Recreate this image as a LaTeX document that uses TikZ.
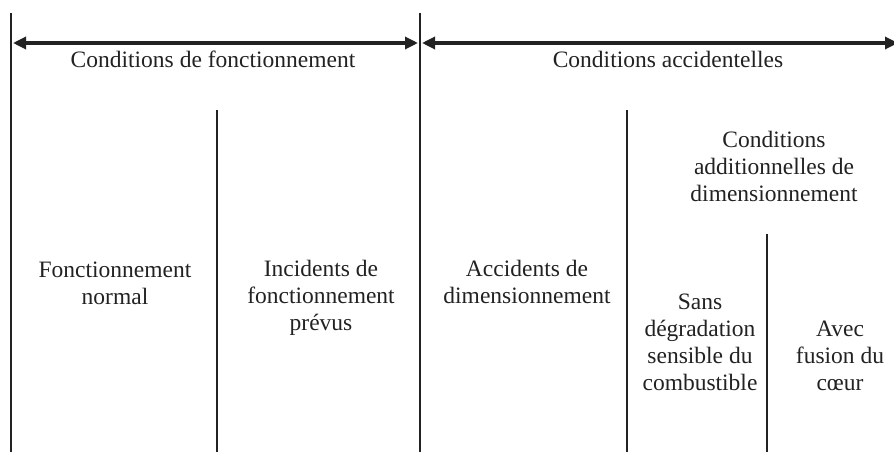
\documentclass[tikz,border=0pt]{standalone}
\usepackage{fontspec}
\setmainfont{Liberation Serif}
\usetikzlibrary{arrows.meta}
\definecolor{ink}{HTML}{222222}
\tikzset{
  divider/.style={draw=ink, line width=1.4pt},
  span/.style={draw=ink, line width=3.2pt, {Triangle[length=13pt,width=12pt]}-{Triangle[length=13pt,width=12pt]}, shorten <=1pt, shorten >=1pt},
  lbl/.style={text=ink, font=\fontsize{23.5}{26.8}\selectfont, align=center, inner sep=0pt, anchor=base},
}
\begin{document}
\begin{tikzpicture}[x=1pt,y=-1pt]
\useasboundingbox (0,0) rectangle (894,452);
\clip (0,0) rectangle (894,452);
% dividers
\coordinate (d1t) at (11,13);   \coordinate (d1b) at (11,452);
\coordinate (d2t) at (420,13);  \coordinate (d2b) at (420,452);
\coordinate (d3t) at (217,110); \coordinate (d3b) at (217,452);
\coordinate (d4t) at (627,110); \coordinate (d4b) at (627,452);
\coordinate (d5t) at (767,234); \coordinate (d5b) at (767,452);
\draw[divider] (d1t) -- (d1b);
\draw[divider] (d2t) -- (d2b);
\draw[divider] (d3t) -- (d3b);
\draw[divider] (d4t) -- (d4b);
\draw[divider] (d5t) -- (d5b);
% spans
\coordinate (a1l) at (12,43);  \coordinate (a1r) at (419,43);
\coordinate (a2l) at (421,43); \coordinate (a2r) at (899,43);
\draw[span] (a1l) -- (a1r);
\draw[span] (a2l) -- (a2r);
% labels (anchor=base is the baseline of the last line)
\node[lbl] (cf) at (213,67) {Conditions de fonctionnement};
\node[lbl] (ca) at (668,67) {Conditions accidentelles};
\node[lbl] (fn) at (115,304) {Fonctionnement\\normal};
\node[lbl] (ifp) at (321,330) {Incidents de\\fonctionnement\\prévus};
\node[lbl] (ad) at (527,303) {Accidents de\\dimensionnement};
\node[lbl] (cad) at (774,201) {Conditions\\additionnelles de\\dimensionnement};
\node[lbl] (sd) at (700,390) {Sans\\dégradation\\sensible du\\combustible};
\node[lbl] (af) at (840,390) {Avec\\fusion du\\cœur};
\end{tikzpicture}
\end{document}
